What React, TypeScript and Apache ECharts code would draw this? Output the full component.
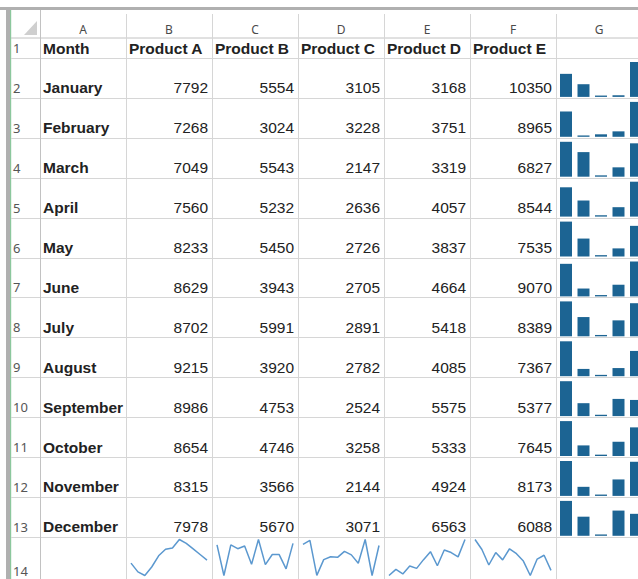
import React, { useEffect, useRef } from "react";
import * as echarts from "echarts";

const columnLetters = ["A", "B", "C", "D", "E", "F", "G"];
const months = ["January", "February", "March", "April", "May", "June", "July", "August", "September", "October", "November", "December"];
const products = ["Product A", "Product B", "Product C", "Product D", "Product E"];
const productA = [7792, 7268, 7049, 7560, 8233, 8629, 8702, 9215, 8986, 8654, 8315, 7978];
const productB = [5554, 3024, 5543, 5232, 5450, 3943, 5991, 3920, 4753, 4746, 3566, 5670];
const productC = [3105, 3228, 2147, 2636, 2726, 2705, 2891, 2782, 2524, 3258, 2144, 3071];
const productD = [3168, 3751, 3319, 4057, 3837, 4664, 5418, 4085, 5575, 5333, 4924, 6563];
const productE = [10350, 8965, 6827, 8544, 7535, 9070, 8389, 7367, 5377, 7645, 8173, 6088];
const productSeries = [productA, productB, productC, productD, productE];

const W = 638;
const H = 579;
const colX = [40, 126, 212, 298, 384, 470, 556, 642];
const ROW_H = 39.9;
const rowTop = (k: number) => (k === 1 ? 38 : 58 + ROW_H * (k - 2));
const rowBottom = (k: number) => (k === 1 ? 58 : rowTop(k) + ROW_H);

const TEXT_FONT = '"Liberation Sans", Arial, sans-serif';
const HEAD_FONT = '"Noto Sans", "Open Sans", sans-serif';
const BAR_COLOR = "#1c6493";
const LINE_COLOR = "#5b98cf";

export default function App() {
  const ref = useRef<HTMLDivElement>(null);
  useEffect(() => {
    if (!ref.current) return;
    const chart = echarts.init(ref.current, null, { renderer: "svg" });
    const graphic: any[] = [];
    const gridColor = "#d6d6d6";
    const headColor = "#c2c2c2";
    graphic.push({ type: "rect", shape: { x: 0, y: 7, width: W, height: 3 }, style: { fill: "#b0b0b0" }, z: 1 });
    graphic.push({ type: "rect", shape: { x: 6, y: 7, width: 4, height: H }, style: { fill: "#b0b0b0" }, z: 1 });
    graphic.push({ type: "rect", shape: { x: 10, y: 10, width: 1.2, height: H }, style: { fill: "#8cc79d" }, z: 1 });
    graphic.push({ type: "polygon", shape: { points: [[37, 21], [37, 35], [24, 35]] }, style: { fill: "#cfcfcf" }, z: 1 });
    graphic.push({ type: "line", shape: { x1: 11, y1: 38, x2: W, y2: 38 }, style: { stroke: headColor, lineWidth: 1 }, z: 1 });
    for (let k = 1; k <= 13; k++) {
      const y = Math.round(rowBottom(k)) + 0.5;
      graphic.push({ type: "line", shape: { x1: 11, y1: y, x2: W, y2: y }, style: { stroke: gridColor, lineWidth: 1 }, z: 1 });
    }
    graphic.push({ type: "line", shape: { x1: 40.5, y1: 10, x2: 40.5, y2: H }, style: { stroke: headColor, lineWidth: 1 }, z: 1 });
    for (let i = 1; i < colX.length - 1; i++) {
      const x = colX[i] + 0.5;
      graphic.push({ type: "line", shape: { x1: x, y1: 14, x2: x, y2: H }, style: { stroke: gridColor, lineWidth: 1 }, z: 1 });
    }
    columnLetters.forEach((c, i) => {
      graphic.push({
        type: "text", x: (colX[i] + colX[i + 1]) / 2, y: 29, z: 5,
        style: { text: c, font: `12px ${HEAD_FONT}`, fill: "#4a4a4a", align: "center", verticalAlign: "middle" },
      });
    });
    for (let k = 1; k <= 14; k++) {
      const y = k === 14 ? 571 : rowBottom(k) - 10;
      graphic.push({
        type: "text", x: 13, y, z: 5,
        style: { text: String(k), font: `13px ${HEAD_FONT}`, fill: "#555", align: "left", verticalAlign: "middle" },
      });
    }
    graphic.push({
      type: "text", x: 43, y: 48, z: 5,
      style: { text: "Month", font: `bold 15.5px ${TEXT_FONT}`, fill: "#222", align: "left", verticalAlign: "middle" },
    });
    products.forEach((p, j) => {
      graphic.push({
        type: "text", x: colX[j + 1] + 3, y: 48, z: 5,
        style: { text: p, font: `bold 15.5px ${TEXT_FONT}`, fill: "#222", align: "left", verticalAlign: "middle" },
      });
    });
    months.forEach((m, i) => {
      const k = i + 2;
      const y = rowBottom(k) - 10;
      graphic.push({
        type: "text", x: 43, y, z: 5,
        style: { text: m, font: `bold 15.5px ${TEXT_FONT}`, fill: "#222", align: "left", verticalAlign: "middle" },
      });
      productSeries.forEach((arr, j) => {
        graphic.push({
          type: "text", x: colX[j + 2] - 4, y, z: 5,
          style: { text: String(arr[i]), font: `15.5px ${TEXT_FONT}`, fill: "#222", align: "right", verticalAlign: "middle" },
        });
      });
    });

    const grids: any[] = [];
    const xAxes: any[] = [];
    const yAxes: any[] = [];
    const series: any[] = [];
    months.forEach((m, i) => {
      const k = i + 2;
      const vals = productSeries.map((a) => a[i]);
      const mn = Math.min(...vals);
      const mx = Math.max(...vals);
      const top = rowTop(k) + 4;
      const h = rowBottom(k) - 1 - top;
      grids.push({ left: 557.25, top, width: 87.5, height: h, containLabel: false, outerBoundsMode: "none" });
      xAxes.push({ type: "category", data: products, gridIndex: grids.length - 1, show: false, boundaryGap: true });
      yAxes.push({ type: "value", gridIndex: grids.length - 1, show: false, scale: true, min: mn - (mx - mn) * 0.04, max: mx });
      series.push({
        type: "bar", xAxisIndex: grids.length - 1, yAxisIndex: grids.length - 1, data: vals,
        barWidth: 12, itemStyle: { color: BAR_COLOR }, silent: true,
      });
    });
    productSeries.forEach((arr, j) => {
      const x0 = colX[j + 1];
      grids.push({ left: x0 + 5, top: 539.5, width: 76, height: 36, outerBoundsMode: "none" });
      xAxes.push({ type: "category", data: months, gridIndex: grids.length - 1, show: false, boundaryGap: false });
      yAxes.push({ type: "value", gridIndex: grids.length - 1, show: false, scale: true, min: Math.min(...arr), max: Math.max(...arr) });
      series.push({
        type: "line", xAxisIndex: grids.length - 1, yAxisIndex: grids.length - 1, data: arr,
        showSymbol: false, symbol: "none", clip: false, lineStyle: { color: LINE_COLOR, width: 1.5 }, silent: true,
      });
    });

    chart.setOption({
      animation: false,
      backgroundColor: "#ffffff",
      grid: grids,
      xAxis: xAxes,
      yAxis: yAxes,
      series,
      graphic,
    });
    return () => chart.dispose();
  }, []);
  return <div ref={ref} style={{ position: "fixed", left: 0, top: 0, width: W, height: H }} />;
}
